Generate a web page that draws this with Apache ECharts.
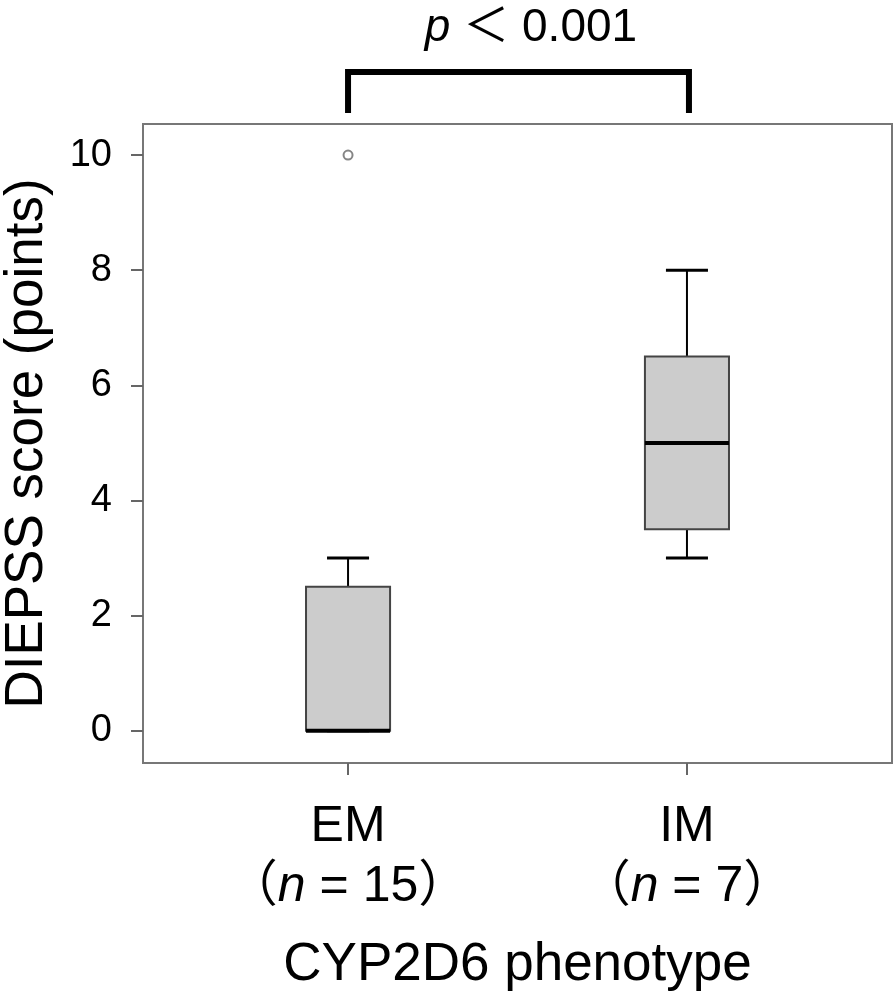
<!DOCTYPE html>
<html>
<head>
<meta charset="utf-8">
<script src="https://cdn.jsdelivr.net/npm/echarts@6/dist/echarts.min.js"></script>
<style>
  html, body { margin: 0; padding: 0; background: #fff; }
  #chart { width: 895px; height: 994px; }
</style>
</head>
<body>
<div id="chart"></div>
<script>
// ---- data ----
const categories = ['EM', 'IM'];
const sampleSizes = [15, 7];
const whiskerLow = [0, 3];
const q1 = [0, 3.5];
const median = [0, 5];
const q3 = [2.5, 6.5];
const whiskerHigh = [3, 8];
const outlierValues = [[1, 10]]; // [category position (1-based), value]
const yTicks = [0, 2, 4, 6, 8, 10];
const xTicks = [1, 2];
const pLabel = '＜ 0.001';
const yTitle = 'DIEPSS score (points)';
const xTitle = 'CYP2D6 phenotype';

// ---- build ----
const FONT = "'Liberation Sans', 'Noto Sans CJK JP', sans-serif";
const boxData = categories.map((c, i) => [i + 1, whiskerLow[i], q1[i], median[i], q3[i], whiskerHigh[i]]);

const chart = echarts.init(document.getElementById('chart'), null, { renderer: 'canvas' });

function renderBox(params, api) {
  const x = api.value(0);
  const lo = api.coord([x, api.value(1)]);
  const b1 = api.coord([x, api.value(2)]);
  const md = api.coord([x, api.value(3)]);
  const b3 = api.coord([x, api.value(4)]);
  const hi = api.coord([x, api.value(5)]);
  const unit = api.size([1, 0])[0];
  const hw = unit * 0.124;
  const cw = hw / 2;
  const cx = lo[0];
  const black = { stroke: '#000', lineWidth: 2, fill: null };
  return {
    type: 'group',
    children: [
      { type: 'line', shape: { x1: cx, y1: b3[1], x2: cx, y2: hi[1] }, style: black },
      { type: 'line', shape: { x1: cx, y1: b1[1], x2: cx, y2: lo[1] }, style: black },
      { type: 'line', shape: { x1: cx - cw, y1: hi[1], x2: cx + cw, y2: hi[1] }, style: { stroke: '#000', lineWidth: 3 } },
      { type: 'line', shape: { x1: cx - cw, y1: lo[1], x2: cx + cw, y2: lo[1] }, style: { stroke: '#000', lineWidth: 3 } },
      { type: 'rect', shape: { x: cx - hw, y: b3[1], width: hw * 2, height: b1[1] - b3[1] },
        style: { fill: '#cccccc', stroke: '#444', lineWidth: 2 } },
      { type: 'line', shape: { x1: cx - hw, y1: md[1], x2: cx + hw, y2: md[1] }, style: { stroke: '#000', lineWidth: 4 } }
    ]
  };
}

function renderBracket(params, api) {
  const a = api.coord([api.value(0), 0]);
  const b = api.coord([api.value(1), 0]);
  const top = params.coordSys.y;
  const yTop = top - 52;
  const yBot = top - 11;
  return {
    type: 'polyline',
    shape: { points: [[a[0], yBot], [a[0], yTop], [b[0] + 2, yTop], [b[0] + 2, yBot]] },
    style: { stroke: '#000', lineWidth: 6, fill: null, lineJoin: 'miter' }
  };
}

const option = {
  animation: false,
  backgroundColor: '#fff',
  title: {
    text: '{i|p} ' + pLabel,
    left: 526,
    top: 0,
    textAlign: 'center',
    textStyle: {
      fontFamily: FONT, fontSize: 46, fontWeight: 'normal', color: '#000',
      rich: { i: { fontFamily: FONT, fontSize: 46, fontStyle: 'italic', color: '#000' } }
    }
  },
  grid: {
    left: 143, right: 3, top: 124, bottom: 231,
    outerBoundsMode: 'none',
    containLabel: false,
    show: true, borderColor: '#777', borderWidth: 2, backgroundColor: 'transparent'
  },
  xAxis: {
    type: 'value',
    min: 0.395, max: 2.605,
    splitLine: { show: false },
    axisLine: { show: false, onZero: false },
    axisTick: { show: true, customValues: xTicks, length: 12, lineStyle: { color: '#666', width: 2 } },
    axisLabel: {
      customValues: xTicks,
      margin: 34,
      formatter: function (v) {
        const i = Math.round(v) - 1;
        return '{a|' + categories[i] + '}\n{b|（}{i|n}{b| = ' + sampleSizes[i] + '）}';
      },
      rich: {
        a: { fontFamily: FONT, fontSize: 50, color: '#000', lineHeight: 60 },
        b: { fontFamily: FONT, fontSize: 50, color: '#000', lineHeight: 60 },
        i: { fontFamily: FONT, fontSize: 50, fontStyle: 'italic', color: '#000', lineHeight: 60 }
      }
    },
    name: xTitle,
    nameLocation: 'middle',
    nameGap: 176,
    nameTextStyle: { fontFamily: FONT, fontSize: 53, color: '#000' }
  },
  yAxis: {
    type: 'value',
    min: -0.56, max: 10.54,
    splitLine: { show: false },
    axisLine: { show: false, onZero: false },
    axisTick: { show: true, customValues: yTicks, length: 12, lineStyle: { color: '#666', width: 2 } },
    axisLabel: {
      customValues: yTicks,
      margin: 31,
      fontFamily: FONT, fontSize: 38, color: '#000'
    },
    name: yTitle,
    nameLocation: 'middle',
    nameGap: 89,
    nameRotate: 90,
    nameTextStyle: { fontFamily: FONT, fontSize: 53, color: '#000' }
  },
  series: [
    {
      type: 'custom',
      renderItem: renderBox,
      data: boxData,
      encode: { x: 0, y: [1, 2, 3, 4, 5] },
      z: 2
    },
    {
      type: 'scatter',
      data: outlierValues,
      symbol: 'circle',
      symbolSize: 9,
      itemStyle: { color: '#fff', borderColor: '#666', borderWidth: 2 },
      z: 3
    },
    {
      type: 'custom',
      renderItem: renderBracket,
      clip: false,
      data: [[1, 2]],
      encode: { x: [0, 1] },
      silent: true
    }
  ]
};
chart.setOption(option);
</script>
</body>
</html>
